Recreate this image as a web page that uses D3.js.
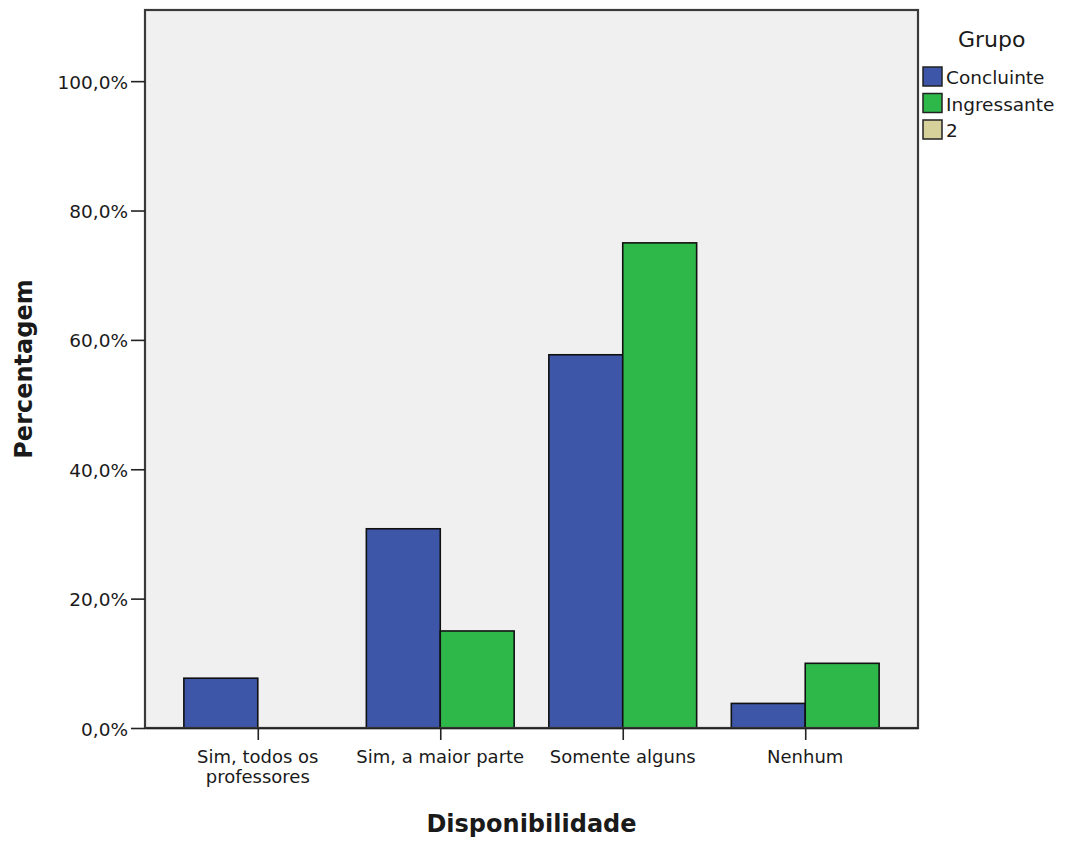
<!DOCTYPE html>
<html>
<head>
<meta charset="utf-8">
<script src="https://cdn.jsdelivr.net/npm/d3@7"></script>
<style>
  html, body { margin: 0; padding: 0; background: #ffffff; }
  svg { display: block; }
  text { font-family: "DejaVu Sans", sans-serif; fill: #1a1a1a; }
</style>
</head>
<body>
<svg id="chart" width="1066" height="843"></svg>
<script>
// ---- data ----
const categories = ["Sim, todos os professores", "Sim, a maior parte", "Somente alguns", "Nenhum"];
const categoryLines = [["Sim, todos os", "professores"], ["Sim, a maior parte"], ["Somente alguns"], ["Nenhum"]];
const groups = ["Concluinte", "Ingressante", "2"];
const concluinte = [0.077, 0.308, 0.577, 0.038];
const ingressante = [0, 0.150, 0.750, 0.100];
const grupo2 = [null, null, null, null];
const seriesValues = [concluinte, ingressante, grupo2];
const yTicks = [0, 0.2, 0.4, 0.6, 0.8, 1.0];
const colors = ["#3d56a8", "#2fb84a", "#d6d09a"];

// ---- layout ----
const svg = d3.select("#chart");
const plot = { left: 145, right: 918, top: 10, bottom: 728 };

const x = d3.scalePoint().domain(categories).range([plot.left, plot.right]).padding(0.618);
const barW = x.step() * 0.405;
const drawnGroups = groups.filter((g, i) => seriesValues[i].some(v => v !== null));
const xSub = d3.scaleBand().domain(drawnGroups).range([-barW, barW]).padding(0);
const y = d3.scaleLinear().domain([0, 1.11]).range([plot.bottom, plot.top]);
const color = d3.scaleOrdinal().domain(groups).range(colors);

const locale = d3.formatLocale({ decimal: ",", thousands: ".", grouping: [3], currency: ["", ""] });
const fmt = locale.format(".1%");

// plot background
svg.append("rect")
  .attr("x", plot.left).attr("y", plot.top)
  .attr("width", plot.right - plot.left).attr("height", plot.bottom - plot.top)
  .attr("fill", "#f0f0f0");

// bars
const rows = [];
groups.forEach((g, gi) => {
  categories.forEach((c, ci) => {
    const v = seriesValues[gi][ci];
    if (v !== null && v > 0) rows.push({ group: g, cat: c, value: v });
  });
});
svg.append("g").selectAll("rect").data(rows).join("rect")
  .attr("x", d => x(d.cat) + xSub(d.group))
  .attr("y", d => y(d.value))
  .attr("width", xSub.bandwidth())
  .attr("height", d => y(0) - y(d.value))
  .attr("fill", d => color(d.group))
  .attr("stroke", "#111")
  .attr("stroke-width", 1.6);

// frame
svg.append("rect")
  .attr("x", plot.left).attr("y", plot.top)
  .attr("width", plot.right - plot.left).attr("height", plot.bottom - plot.top)
  .attr("fill", "none").attr("stroke", "#3a3a3a").attr("stroke-width", 2.2);

// y axis
const yAxis = d3.axisLeft(y).tickValues(yTicks).tickFormat(fmt).tickSize(14).tickSizeOuter(0).tickPadding(3);
const gy = svg.append("g").attr("transform", `translate(${plot.left},0)`).call(yAxis);
gy.select(".domain").remove();
gy.selectAll(".tick line").attr("stroke", "#222").attr("stroke-width", 1.6);
gy.selectAll(".tick text").attr("font-size", "18.5px").attr("font-family", "DejaVu Sans, sans-serif")
  .attr("fill", "#222").attr("dy", "0.38em");

// x axis
const xAxis = d3.axisBottom(x).tickSize(12).tickSizeOuter(0).tickFormat("");
const gx = svg.append("g").attr("transform", `translate(0,${plot.bottom})`).call(xAxis);
gx.select(".domain").attr("stroke", "#222").attr("stroke-width", 1.6);
gx.selectAll(".tick line").attr("stroke", "#222").attr("stroke-width", 1.6);

const xl = svg.append("g").selectAll("text").data(categories).join("text")
  .attr("x", d => x(d)).attr("y", 763)
  .attr("text-anchor", "middle").attr("font-size", "18px").attr("fill", "#222");
xl.each(function (d, i) {
  const t = d3.select(this);
  categoryLines[i].forEach((ln, li) => {
    t.append("tspan").attr("x", x(d)).attr("dy", li === 0 ? 0 : 20).text(ln);
  });
});

// axis titles
svg.append("text")
  .attr("x", (plot.left + plot.right) / 2).attr("y", 832)
  .attr("text-anchor", "middle").attr("font-size", "24px").attr("font-weight", "bold")
  .attr("fill", "#111").text("Disponibilidade");

svg.append("text")
  .attr("transform", `translate(32,${(plot.top + plot.bottom) / 2}) rotate(-90)`)
  .attr("text-anchor", "middle").attr("font-size", "24px").attr("font-weight", "bold")
  .attr("fill", "#111").text("Percentagem");

// legend
const lg = svg.append("g");
lg.append("text").attr("x", 958).attr("y", 47).attr("font-size", "22px").attr("fill", "#222").text("Grupo");
groups.forEach((g, i) => {
  const yy = 67 + i * 26.5;
  lg.append("rect").attr("x", 923).attr("y", yy).attr("width", 19).attr("height", 19)
    .attr("fill", color(g)).attr("stroke", "#222").attr("stroke-width", 1.5);
  lg.append("text").attr("x", 946).attr("y", yy + 17).attr("font-size", "18.5px").attr("fill", "#222").text(g);
});
</script>
</body>
</html>
